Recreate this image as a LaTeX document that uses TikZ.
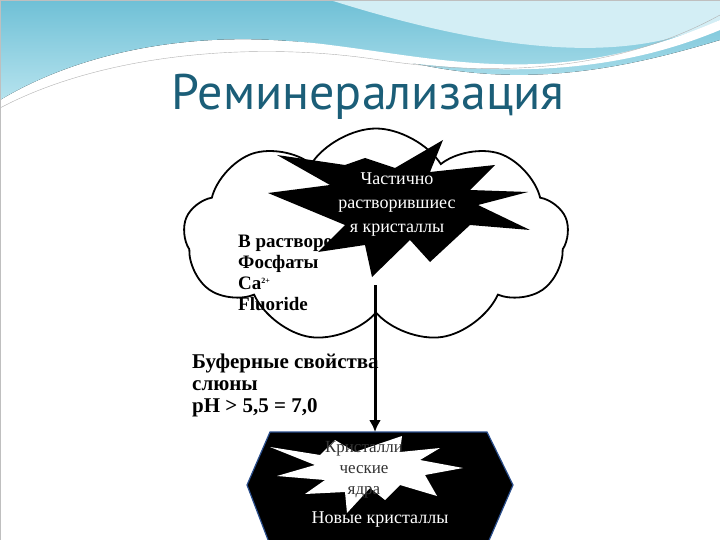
\documentclass[tikz,border=0pt]{standalone}
\usepackage{fontspec}
\setmainfont{Liberation Serif}
\newfontfamily\titlefont{PT Sans}
\usetikzlibrary{shapes.symbols,shapes.geometric,arrows.meta}
\definecolor{titleblue}{HTML}{1B5E78}
\definecolor{wave1}{HTML}{6FC0D6}
\definecolor{wave2}{HTML}{B6E3EE}
\definecolor{hexblue}{HTML}{2A4E8C}
\tikzset{
  bodytext/.style={font=\bfseries\fontsize{19}{21}\selectfont, align=left, inner sep=0pt},
}
\begin{document}
\begin{tikzpicture}[x=1pt,y=-1pt]
\useasboundingbox (0,0) rectangle (720,540);
\fill[white] (0,0) rectangle (720,540);
% header waves
\fill[top color=wave1, bottom color=wave2] (0,0) -- (720,0) -- (720,40) .. controls (620,70) and (520,90) .. (400,60) .. controls (250,20) and (100,40) .. (0,100) -- cycle;
\fill[wave2!60!white] (330,0) -- (720,0) -- (720,20) .. controls (640,60) and (520,60) .. (330,0) -- cycle;
\fill[white] (0,110) .. controls (80,55) and (220,30) .. (330,45) .. controls (450,60) and (560,90) .. (720,20) -- (720,30) .. controls (600,80) and (480,75) .. (350,55) .. controls (220,40) and (80,70) .. (0,115) -- cycle;
\draw[gray!60] (0,108) .. controls (100,55) and (250,40) .. (380,60) .. controls (500,78) and (620,70) .. (720,15);
\draw[gray!50] (0,0) rectangle (720,540);
\node[text=titleblue, font=\titlefont\fontsize{50}{54}\selectfont] (title) at (368,97) {Реминерализация};
% cloud
\node[cloud, draw, line width=1.8pt, cloud puffs=9, cloud puff arc=115, aspect=1.8, minimum width=385pt, minimum height=215pt, fill=white] (cloud) at (376,236) {};
% black starburst
\fill[black] (443,140) -- (430,172) -- (495,165) -- (470,190) -- (528,192) -- (478,205) -- (530,230) -- (470,225) -- (430,262) -- (410,240) -- (372,277) -- (365,245) -- (318,252) -- (345,225) -- (268,193) -- (330,185) -- (277,155) -- (345,165) -- (365,158) -- (395,168) -- cycle;
\node[text=white, align=center, font=\fontsize{18}{24}\selectfont] (startext) at (397,205) {Частично\\растворившиес\\я кристаллы};
\node[bodytext, anchor=north west] (solution) at (238,235) {В растворе\\Фосфаты\\Ca\textsuperscript{\footnotesize 2+}\\Fluoride};
% hexagon
\fill[black, draw=hexblue, line width=1.2pt] (270,432) -- (487,432) -- (513,485) -- (487,545) -- (270,545) -- (247,485) -- cycle;
\coordinate (hextop) at (375,432);
\fill[white] (270,447) -- (320,455) -- (335,440) -- (355,452) -- (402,436) -- (400,452) -- (440,448) -- (420,460) -- (463,468) -- (425,475) -- (437,496) -- (400,485) -- (385,500) -- (370,488) -- (347,513) -- (345,492) -- (305,494) -- (325,480) -- (277,476) -- (315,465) -- cycle;
\node[text=black!80, align=center, font=\fontsize{17}{21}\selectfont] (nuclei) at (364,470) {Кристалли\\ческие\\ядра};
\node[text=white, font=\fontsize{18}{20}\selectfont] (newcr) at (380,520) {Новые кристаллы};
\node[bodytext, anchor=north west, font=\bfseries\fontsize{21}{22}\selectfont] (buffer) at (192,354) {Буферные свойства\\слюны\\pH > 5,5 = 7,0};
\coordinate (arrstart) at (375,285);
\draw[line width=3pt, -{Latex[length=12pt,width=12pt]}] (arrstart) -- (hextop);
\end{tikzpicture}
\end{document}
